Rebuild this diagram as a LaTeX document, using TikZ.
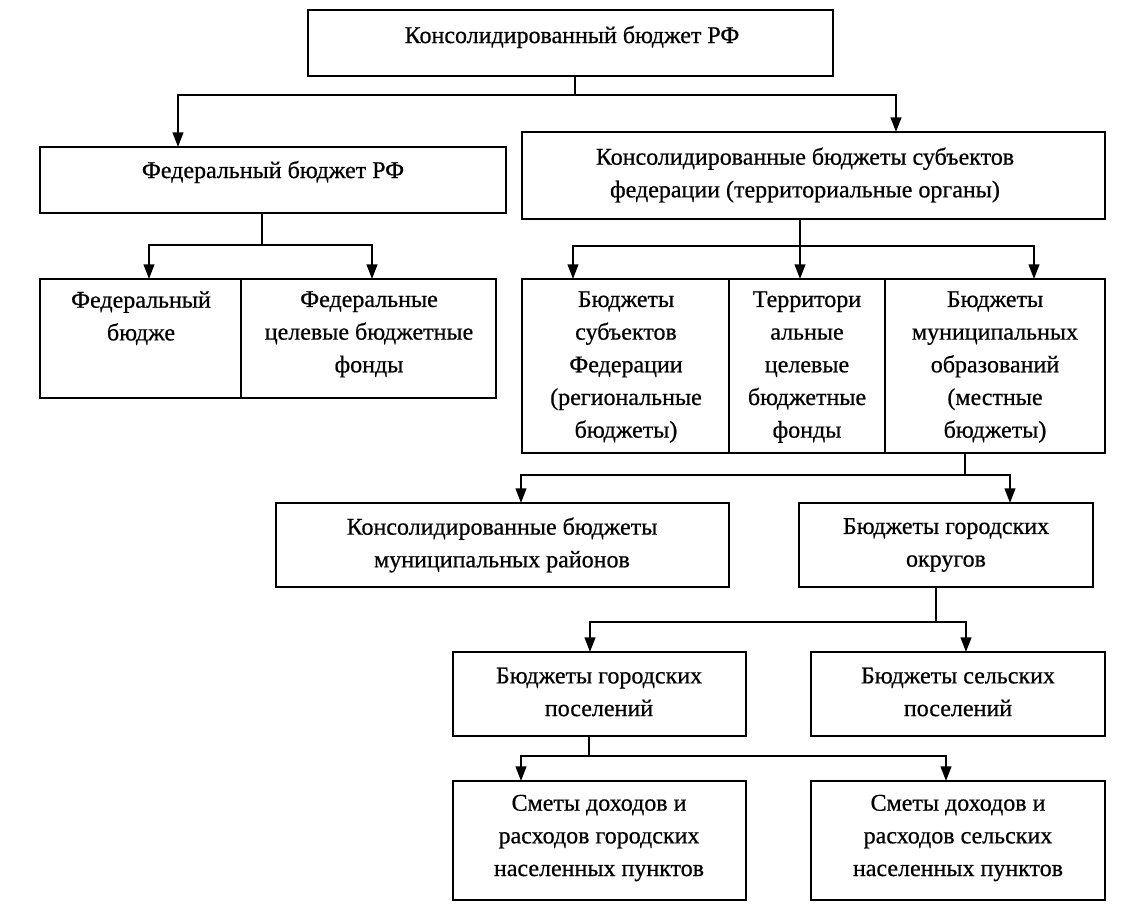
\documentclass[tikz,border=0pt]{standalone}
\usepackage{fontspec}
\setmainfont{Liberation Serif}[FakeBold=0.6]
\usetikzlibrary{arrows.meta}
\begin{document}
\begin{tikzpicture}[x=0.75pt,y=-0.75pt,
  bx/.style={draw,line width=1.2pt},
  tx/.style={align=center,font=\fontsize{18}{24.5}\selectfont,inner sep=0pt},
  ln/.style={line width=1.2pt},
  ar/.style={line width=1.6pt,-{Triangle[length=11pt,width=8pt]}}]
\useasboundingbox (0,0) rectangle (1133,913);
% boxes
\draw[bx] (308,10) rectangle (833,76);
\node[tx] (top) at (572,37) {Консолидированный бюджет РФ};
\draw[bx] (40,147) rectangle (506,213);
\node[tx] (fed) at (273,172) {Федеральный бюджет РФ};
\draw[bx] (522,132) rectangle (1105,219);
\node[tx] (cons) at (805,175) {Консолидированные бюджеты субъектов\\федерации (территориальные органы)};
\draw[bx] (40,279) rectangle (496,398);
\draw[ln] (241,279) -- (241,398);
\node[tx,anchor=north] (f1) at (141,291) {Федеральный\\бюдже};
\node[tx,anchor=north] (f2) at (369,291) {Федеральные\\целевые бюджетные\\фонды};
\draw[bx] (522,279) rectangle (1105,453);
\draw[ln] (729,279) -- (729,453);
\draw[ln] (885,279) -- (885,453);
\node[tx,anchor=north] (s1) at (626,291) {Бюджеты\\субъектов\\Федерации\\(региональные\\бюджеты)};
\node[tx,anchor=north] (s2) at (807,291) {Территори\\альные\\целевые\\бюджетные\\фонды};
\node[tx,anchor=north] (s3) at (995,291) {Бюджеты\\муниципальных\\образований\\(местные\\бюджеты)};
\draw[bx] (276,503) rectangle (729,587);
\node[tx] (mr) at (502,545) {Консолидированные бюджеты\\муниципальных районов};
\draw[bx] (799,503) rectangle (1093,587);
\node[tx] (go) at (946,545) {Бюджеты городских\\округов};
\draw[bx] (453,652) rectangle (746,736);
\node[tx] (gp) at (599,692) {Бюджеты городских\\поселений};
\draw[bx] (811,652) rectangle (1105,736);
\node[tx] (sp) at (958,692) {Бюджеты сельских\\поселений};
\draw[bx] (453,781) rectangle (746,900);
\node[tx] (sm1) at (599,838) {Сметы доходов и\\расходов городских\\населенных пунктов};
\draw[bx] (811,781) rectangle (1105,900);
\node[tx] (sm2) at (958,838) {Сметы доходов и\\расходов сельских\\населенных пунктов};
% connectors
\coordinate (j1) at (575,95);
\draw[ln] (575,76) -- (j1);
\draw[ln] (178,95) -- (896,95);
\draw[ar] (178,94.4) -- (178,147);
\draw[ar] (896,94.4) -- (896,132);
\draw[ln] (262,213) -- (262,245);
\draw[ln] (149,245) -- (372,245);
\draw[ar] (149,244.4) -- (149,279);
\draw[ar] (372,244.4) -- (372,279);
\draw[ln] (800,219) -- (800,246);
\draw[ln] (573,246) -- (1034,246);
\draw[ar] (573,245.4) -- (573,279);
\draw[ar] (800,245.4) -- (800,279);
\draw[ar] (1034,245.4) -- (1034,279);
\draw[ln] (965,453) -- (965,475);
\draw[ln] (521,475) -- (1010,475);
\draw[ar] (521,474.4) -- (521,503);
\draw[ar] (1010,474.4) -- (1010,503);
\draw[ln] (936,587) -- (936,622);
\draw[ln] (590,622) -- (966,622);
\draw[ar] (590,621.4) -- (590,652);
\draw[ar] (966,621.4) -- (966,652);
\draw[ln] (589,736) -- (589,756);
\draw[ln] (521,756) -- (946,756);
\draw[ar] (521,755.4) -- (521,781);
\draw[ar] (946,755.4) -- (946,781);
\end{tikzpicture}
\end{document}
